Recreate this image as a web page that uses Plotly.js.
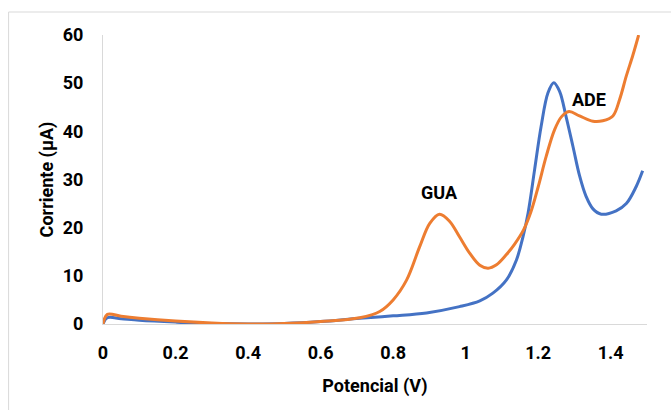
<!DOCTYPE html>
<html>
<head>
<meta charset="utf-8">
<script src="https://cdn.plot.ly/plotly-3.0.1.min.js"></script>
<style>
html,body{margin:0;padding:0;background:#fff;}
#chart{width:671px;height:410px;}
</style>
</head>
<body>
<div id="chart"></div>
<script>
// Blue curve (no label)
const blueX = [0, 0.012, 0.05, 0.1, 0.2, 0.3, 0.4, 0.5, 0.6, 0.708, 0.8, 0.892, 0.983, 1.039, 1.075, 1.112, 1.14, 1.158, 1.172, 1.19, 1.208, 1.227, 1.243, 1.259, 1.277, 1.296, 1.314, 1.332, 1.351, 1.374, 1.415, 1.443, 1.47, 1.488];
const blueY = [0, 1.3, 1.1, 0.8, 0.4, 0.1, 0.0, 0.1, 0.5, 1.2, 1.7, 2.3, 3.6, 4.8, 6.4, 9.1, 13.3, 18.1, 23, 32, 41, 48, 50.1, 48.3, 43, 36.8, 30.8, 26.5, 23.9, 22.8, 23.5, 25, 28.5, 31.8];
// Orange curve (GUA / ADE peaks)
const orangeX = [0, 0.012, 0.05, 0.1, 0.2, 0.3, 0.4, 0.5, 0.6, 0.708, 0.763, 0.8, 0.837, 0.873, 0.901, 0.928, 0.956, 0.983, 1.011, 1.039, 1.062, 1.085, 1.11, 1.135, 1.16, 1.18, 1.2, 1.222, 1.245, 1.264, 1.285, 1.314, 1.351, 1.378, 1.406, 1.424, 1.443, 1.461, 1.477];
const orangeY = [0, 2, 1.6, 1.2, 0.6, 0.2, 0.0, 0.1, 0.5, 1.3, 2.6, 5, 9.1, 16, 20.9, 22.8, 21.3, 18.1, 14.7, 12.2, 11.6, 12.3, 14.2, 16.6, 19.6, 23.3, 28.5, 34.8, 40.3, 43, 44.1, 43.2, 42.1, 42.2, 43.2, 46.5, 51.5, 55.8, 60];
// Peak labels
const peakLabels = ["GUA", "ADE"];
const peakLabelX = [0.928, 1.339];
const peakLabelY = [27.4, 46.7];
const xTicks = [0, 0.2, 0.4, 0.6, 0.8, 1, 1.2, 1.4];
const xTickText = ["0", "0.2", "0.4", "0.6", "0.8", "1", "1.2", "1.4"];
const yTicks = [0, 10, 20, 30, 40, 50, 60];

const FONT = "Roboto, 'Liberation Sans', sans-serif";
const tickFont = {family: FONT, size: 18, color: '#000'};

const traces = [
  {x: blueX, y: blueY, mode: 'lines', type: 'scatter', line: {color: '#4472C4', width: 3, shape: 'spline', smoothing: 1}, hoverinfo: 'none', showlegend: false},
  {x: orangeX, y: orangeY, mode: 'lines', type: 'scatter', line: {color: '#ED7D31', width: 3, shape: 'spline', smoothing: 1}, hoverinfo: 'none', showlegend: false}
];

const annotations = peakLabels.map((t, i) => ({
  x: peakLabelX[i], y: peakLabelY[i], xref: 'x', yref: 'y', text: '<b>' + t + '</b>',
  showarrow: false, font: {family: FONT, size: 18, color: '#000'}
}));

const layout = {
  width: 671, height: 410,
  margin: {l: 103, r: 23.5, t: 35, b: 86},
  paper_bgcolor: '#fff', plot_bgcolor: '#fff',
  showlegend: false,
  xaxis: {
    range: [0, 1.5], tickvals: xTicks, ticktext: xTickText.map(s => '<b>' + s + '</b>'),
    showgrid: false, zeroline: false, showline: true, linecolor: '#d9d9d9', linewidth: 1,
    ticks: '', ticklabelstandoff: 12, tickfont: tickFont,
    title: {text: '<b>Potencial (V)</b>', font: {family: FONT, size: 18, color: '#000'}, standoff: 17}
  },
  yaxis: {
    range: [0, 60], tickvals: yTicks, ticktext: yTicks.map(v => '<b>' + v + '</b>'),
    showgrid: false, zeroline: false, showline: true, linecolor: '#d9d9d9', linewidth: 1,
    ticks: '', ticklabelstandoff: 15, tickfont: tickFont,
    title: {text: '<b>Corriente (µA)</b>', font: {family: FONT, size: 18, color: '#000'}, standoff: 4}
  },
  annotations: annotations,
  shapes: [{
    type: 'rect', xref: 'paper', yref: 'paper',
    x0: (8.5 - 103) / 544.5, x1: 1.2, y0: -0.5, y1: (324 - 12) / 289,
    line: {color: '#d9d9d9', width: 1}, fillcolor: 'rgba(0,0,0,0)', layer: 'below'
  }]
};

Plotly.newPlot('chart', traces, layout, {staticPlot: true, displayModeBar: false});
</script>
</body>
</html>
